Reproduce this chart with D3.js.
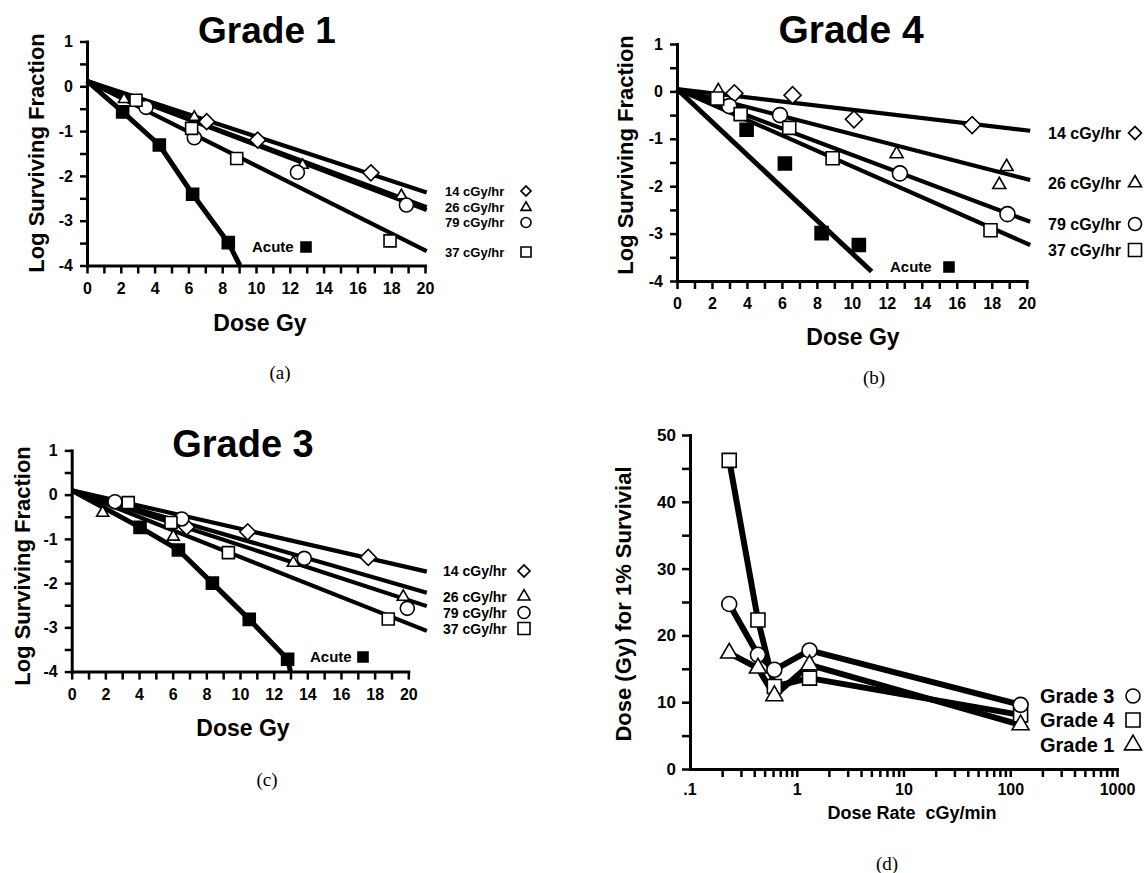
<!DOCTYPE html>
<html><head><meta charset="utf-8">
<script src="https://cdn.jsdelivr.net/npm/d3@7"></script>
<style>
body{margin:0;background:#fff;}
svg text{font-family:"Liberation Sans",Arial,Helvetica,sans-serif;font-weight:bold;fill:#000;}
svg text.cap{font-family:"Liberation Serif","Times New Roman",serif;font-weight:normal;}
</style></head><body>
<svg id="chart" width="1146" height="873"></svg>
<script>
// ---------------- DATA ----------------
const doseTicks = d3.range(0, 21, 1);
const doseLabels = [0, 2, 4, 6, 8, 10, 12, 14, 16, 18, 20];
const logTicks = d3.range(-4, 1.01, 0.5);
const logLabels = [1, 0, -1, -2, -3, -4];
const rateNames = ["14 cGy/hr", "26 cGy/hr", "79 cGy/hr", "37 cGy/hr"];

// Grade 1 (a): [dose Gy, log surviving fraction]
const g1_14 = [[7.08,-0.79],[10.1,-1.2],[16.8,-1.93]];
const g1_26 = [[2.19,-0.29],[6.35,-0.69],[12.76,-1.76],[18.6,-2.44]];
const g1_79 = [[3.49,-0.47],[6.35,-1.15],[12.45,-1.92],[18.9,-2.65]];
const g1_37 = [[2.9,-0.31],[6.19,-0.94],[8.86,-1.61],[17.93,-3.45]];
const g1_acute = [[2.11,-0.57],[4.28,-1.31],[6.25,-2.41],[8.36,-3.49]];
const g1_fit14 = [[0,0.12],[20.1,-2.37]];
const g1_fit26 = [[0,0.12],[20.1,-2.70]];
const g1_fit79 = [[0,0.12],[20.1,-2.76]];
const g1_fit37 = [[0,0.12],[20.1,-3.68]];
const g1_fitAcute = [[0,0.12],[2.11,-0.57],[4.28,-1.31],[6.25,-2.41],[8.36,-3.49],[9.05,-4]];

// Grade 4 (b)
const g4_14 = [[3.28,-0.04],[6.61,-0.08],[10.12,-0.59],[16.88,-0.71]];
const g4_26 = [[2.36,0.01],[12.56,-1.32],[18.85,-1.59],[18.43,-1.97]];
const g4_79 = [[2.99,-0.31],[5.89,-0.50],[12.75,-1.73],[18.9,-2.59]];
const g4_37 = [[2.3,-0.15],[3.64,-0.48],[6.42,-0.77],[8.9,-1.41],[17.93,-2.93]];
const g4_acute = [[3.98,-0.81],[6.17,-1.52],[8.27,-2.99],[10.4,-3.24]];
const g4_fit14 = [[0,0.05],[20.2,-0.83]];
const g4_fit26 = [[0,0.05],[20.2,-1.87]];
const g4_fit79 = [[0,0.05],[20.2,-2.75]];
const g4_fit37 = [[0,0.05],[20.2,-3.24]];
const g4_fitAcute = [[0,0.05],[11.13,-3.8]];

// Grade 3 (c)
const g3_14 = [[6.83,-0.73],[10.46,-0.84],[17.62,-1.42]];
const g3_26 = [[1.84,-0.41],[6.04,-0.95],[13.17,-1.54],[19.7,-2.31]];
const g3_79 = [[2.57,-0.16],[6.54,-0.55],[13.82,-1.44],[19.94,-2.57]];
const g3_37 = [[3.36,-0.18],[5.9,-0.63],[9.31,-1.31],[18.81,-2.81]];
const g3_acute = [[4.06,-0.74],[6.34,-1.25],[8.36,-2.0],[10.55,-2.82],[12.83,-3.72]];
const g3_fit14 = [[0,0.1],[21.1,-1.74]];
const g3_fit26 = [[0,0.1],[21.1,-2.22]];
const g3_fit79 = [[0,0.1],[21.1,-2.52]];
const g3_fit37 = [[0,0.1],[21.1,-3.08]];
const g3_fitAcute = [[0,0.1],[4.06,-0.74],[6.34,-1.25],[8.36,-2.0],[10.55,-2.82],[12.83,-3.72],[13.0,-4]];

// (d) dose for 1% survival vs dose rate (cGy/min)
const rateX = [0.233, 0.433, 0.617, 1.317, 125];
const d_grade3 = [24.7, 17.1, 14.85, 17.75, 9.6];
const d_grade4 = [46.2, 22.3, 12.35, 13.6, 8.1];
const d_grade1 = [17.35, 15.1, 10.96, 15.6, 6.6];
const rateTickLabels = {0.1: ".1", 1: "1", 10: "10", 100: "100", 1000: "1000"};
const dTicks = d3.range(0, 51, 5);
const dLabels = [0, 10, 20, 30, 40, 50];

// ---------------- DRAW ----------------
const svg = d3.select("#chart");

function sym(type, s) {
  if (type === "square") return d3.symbol(d3.symbolSquare, s * s)();
  if (type === "diamond") return d3.symbol(d3.symbolSquare, s * s / 2)();
  if (type === "circle") return d3.symbol(d3.symbolCircle, Math.PI * s * s / 4)();
  return d3.symbol(d3.symbolTriangle, s * s * Math.sqrt(3) / 4)();
}
function drawSym(g, type, cx, cy, s, filled) {
  g.append("path")
    .attr("transform", `translate(${cx},${cy})` + (type === "diamond" ? " rotate(45)" : ""))
    .attr("d", sym(type, s))
    .attr("fill", filled ? "#000" : "#fff")
    .attr("stroke", "#000").attr("stroke-width", 1.6);
}
function styleAxis(sel, fs) {
  sel.attr("font-family", null).attr("font-size", null);
  sel.select(".domain").attr("stroke", "#000").attr("stroke-width", 3).attr("stroke-linecap", "square");
  sel.selectAll(".tick line").attr("stroke", "#000").attr("stroke-width", 2.5);
  sel.selectAll(".tick text").style("font-size", fs + "px");
}

function survivalPanel(c) {
  const g = svg.append("g");
  const x = d3.scaleLinear().domain([0, 20]).range([c.x0, c.x20]);
  const y = d3.scaleLinear().domain([-4, 1]).range([c.yBot, c.yTop]);
  g.append("g").attr("transform", `translate(0,${c.yBot})`)
    .call(d3.axisBottom(x).tickValues(doseTicks).tickSize(8).tickSizeOuter(0).tickPadding(9)
      .tickFormat(d => doseLabels.includes(d) ? String(d) : ""))
    .call(styleAxis, c.tickFont);
  g.append("g").attr("transform", `translate(${c.x0},0)`)
    .call(d3.axisLeft(y).tickValues(logTicks).tickSize(7).tickSizeOuter(0).tickPadding(7)
      .tickFormat(d => logLabels.includes(d) ? String(d) : ""))
    .call(styleAxis, c.tickFont);

  const line = d3.line().x(d => x(d[0])).y(d => y(d[1]));
  c.series.forEach(s => {
    g.append("path").attr("d", line(s.fit)).attr("fill", "none")
      .attr("stroke", "#000").attr("stroke-width", s.filled ? 5 : 4.2)
      .attr("stroke-linejoin", "round");
  });
  c.series.forEach(s => {
    s.pts.forEach(p => drawSym(g, s.symbol, x(p[0]), y(p[1]), c.mark[s.symbol], s.filled));
  });

  // titles
  g.append("text").attr("x", c.titleX).attr("y", c.titleY).attr("text-anchor", "middle")
    .style("font-size", c.titleSize + "px").text(c.title);
  g.append("text").attr("transform", `translate(${c.ylabX},${c.ylabY}) rotate(-90)`)
    .attr("text-anchor", "middle").attr("dy", "0.35em").style("font-size", "22px")
    .text("Log Surviving Fraction");
  g.append("text").attr("x", c.xlabX).attr("y", c.xlabY).attr("text-anchor", "middle")
    .attr("dy", "0.35em").style("font-size", "23px").text("Dose Gy");
  g.append("text").attr("class", "cap").attr("x", c.capX).attr("y", c.capY)
    .attr("text-anchor", "middle").attr("dy", "0.35em").style("font-size", "19px").text(c.cap);

  // legend
  c.series.filter(s => !s.filled).forEach((s, i) => {
    g.append("text").attr("x", c.legX).attr("y", c.legY[i]).attr("dy", "0.36em")
      .style("font-size", c.legFont + "px").text(s.name);
    drawSym(g, s.symbol, c.legSymX, c.legY[i], c.legSym, false);
  });
  g.append("text").attr("x", c.acuteX).attr("y", c.acuteY).attr("dy", "0.36em")
    .style("font-size", "15px").text("Acute");
  drawSym(g, "square", c.acuteSymX, c.acuteY, 10, true);
}

function seriesSet(p14, p26, p79, p37, pa, f14, f26, f79, f37, fa) {
  return [
    {name: rateNames[0], symbol: "diamond", pts: p14, fit: f14},
    {name: rateNames[1], symbol: "triangle", pts: p26, fit: f26},
    {name: rateNames[2], symbol: "circle", pts: p79, fit: f79},
    {name: rateNames[3], symbol: "square", pts: p37, fit: f37},
    {name: "Acute", symbol: "square", pts: pa, fit: fa, filled: true}
  ];
}

survivalPanel({
  x0: 87, x20: 425, yTop: 41.5, yBot: 265.5, tickFont: 16,
  title: "Grade 1", titleX: 267, titleY: 43, titleSize: 37,
  ylabX: 36, ylabY: 153, xlabX: 260, xlabY: 323, cap: "(a)", capX: 280, capY: 372,
  legX: 445, legY: [191, 207.5, 222.5, 252], legFont: 13, legSymX: 526, legSym: 10,
  acuteX: 252, acuteY: 247, acuteSymX: 306,
  mark: {diamond: 16, triangle: 11, circle: 14, square: 12},
  series: seriesSet(g1_14, g1_26, g1_79, g1_37, g1_acute, g1_fit14, g1_fit26, g1_fit79, g1_fit37, g1_fitAcute)
});
survivalPanel({
  x0: 677, x20: 1026.7, yTop: 44, yBot: 281, tickFont: 16,
  title: "Grade 4", titleX: 851, titleY: 43, titleSize: 39,
  ylabX: 625, ylabY: 155, xlabX: 853, xlabY: 337, cap: "(b)", capX: 874, capY: 377,
  legX: 1048, legY: [133, 183, 224, 250], legFont: 16, legSymX: 1135, legSym: 13,
  acuteX: 890, acuteY: 267, acuteSymX: 949,
  mark: {diamond: 17, triangle: 13, circle: 15, square: 13},
  series: seriesSet(g4_14, g4_26, g4_79, g4_37, g4_acute, g4_fit14, g4_fit26, g4_fit79, g4_fit37, g4_fitAcute)
});
survivalPanel({
  x0: 71.7, x20: 408.3, yTop: 450.4, yBot: 671.6, tickFont: 16,
  title: "Grade 3", titleX: 243, titleY: 457, titleSize: 38,
  ylabX: 22, ylabY: 566, xlabX: 243, xlabY: 728, cap: "(c)", capX: 267, capY: 779,
  legX: 443, legY: [571, 596.5, 612.5, 628.5], legFont: 14, legSymX: 524, legSym: 12,
  acuteX: 310, acuteY: 657, acuteSymX: 363,
  mark: {diamond: 16, triangle: 12, circle: 14, square: 12},
  series: seriesSet(g3_14, g3_26, g3_79, g3_37, g3_acute, g3_fit14, g3_fit26, g3_fit79, g3_fit37, g3_fitAcute)
});

// ---------- panel (d) ----------
(function () {
  const g = svg.append("g");
  const x = d3.scaleLog().domain([0.1, 1000]).range([690, 1117]);
  const y = d3.scaleLinear().domain([0, 50]).range([769, 435]);
  const xt = [];
  [0.1, 1, 10, 100].forEach(dec => { for (let m = 1; m <= 9; m++) xt.push(+(m * dec).toPrecision(3)); });
  xt.push(1000);
  const xTicks = xt.filter(v => v > 0.1);
  g.append("g").attr("transform", "translate(0,769)")
    .call(d3.axisBottom(x).tickValues(xTicks).tickSize(8).tickSizeOuter(0).tickPadding(7)
      .tickFormat(d => rateTickLabels[d] || ""))
    .call(styleAxis, 16);
  // .1 label (no tick at axis corner)
  g.append("text").attr("x", x(0.1)).attr("y", 769 + 15).attr("dy", "0.71em")
    .attr("text-anchor", "middle").style("font-size", "16px").text(rateTickLabels[0.1]);
  g.append("g").attr("transform", "translate(690,0)")
    .call(d3.axisLeft(y).tickValues(dTicks).tickSize(8).tickSizeOuter(0).tickPadding(6)
      .tickFormat(d => dLabels.includes(d) ? String(d) : ""))
    .call(styleAxis, 17);

  const line = d3.line().x(d => x(d[0])).y(d => y(d[1]));
  const series = [
    {name: "Grade 4", symbol: "square", vals: d_grade4, size: 14},
    {name: "Grade 3", symbol: "circle", vals: d_grade3, size: 15},
    {name: "Grade 1", symbol: "triangle", vals: d_grade1, size: 17}
  ];
  series.forEach(s => {
    g.append("path").attr("d", line(rateX.map((r, i) => [r, s.vals[i]])))
      .attr("fill", "none").attr("stroke", "#000").attr("stroke-width", 6).attr("stroke-linejoin", "round");
  });
  series.forEach(s => {
    rateX.forEach((r, i) => drawSym(g, s.symbol, x(r), y(s.vals[i]), s.size, false));
  });

  g.append("text").attr("transform", "translate(623,604) rotate(-90)").attr("text-anchor", "middle")
    .attr("dy", "0.35em").style("font-size", "22px").text("Dose (Gy) for 1% Survivial");
  g.append("text").attr("x", 912).attr("y", 813).attr("text-anchor", "middle").attr("dy", "0.35em")
    .style("font-size", "18px").text("Dose Rate\u00a0 cGy/min");
  g.append("text").attr("class", "cap").attr("x", 887).attr("y", 863).attr("text-anchor", "middle")
    .attr("dy", "0.35em").style("font-size", "19px").text("(d)");

  const legend = [series[1], series[0], series[2]];
  const ly = [696, 720, 745];
  legend.forEach((s, i) => {
    g.append("text").attr("x", 1040).attr("y", ly[i]).attr("dy", "0.36em").style("font-size", "20px").text(s.name);
    drawSym(g, s.symbol, 1133, ly[i], s.symbol === "triangle" ? 17 : 14, false);
  });
})();
</script>
</body></html>
